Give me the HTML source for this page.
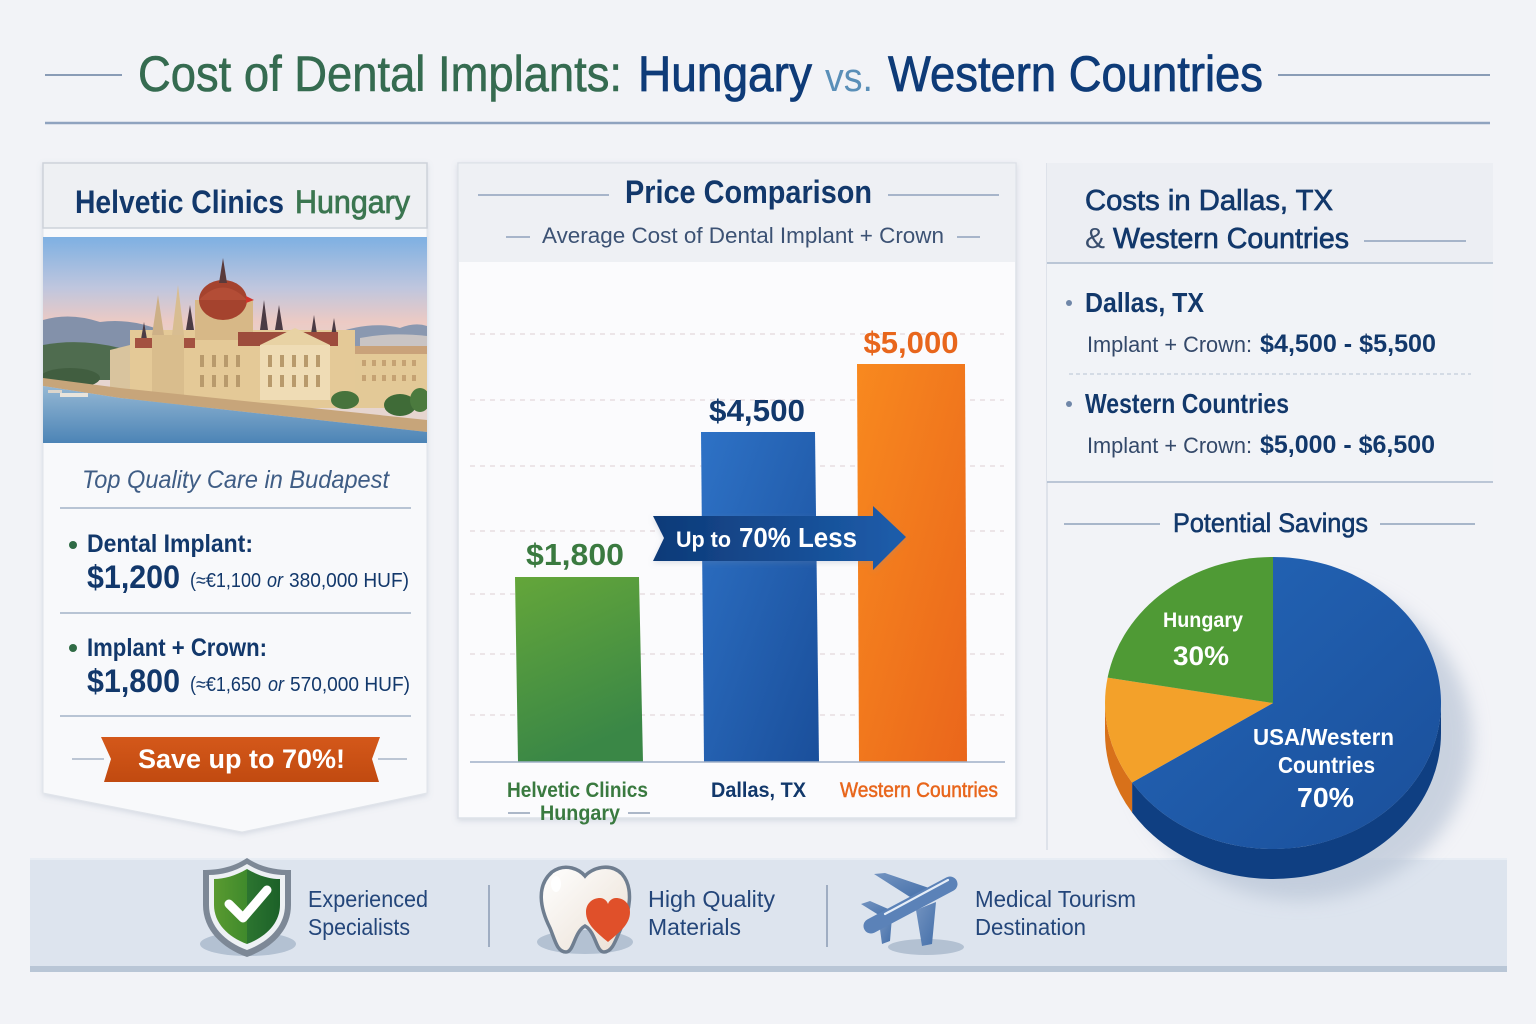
<!DOCTYPE html>
<html><head><meta charset="utf-8">
<style>
html,body{margin:0;padding:0;background:#f2f3f7;}
svg{display:block}
text{font-family:"Liberation Sans",sans-serif}
</style></head><body>
<svg xmlns="http://www.w3.org/2000/svg" width="1536" height="1024" viewBox="0 0 1536 1024">
<defs>
<filter id="sh" x="-10%" y="-10%" width="120%" height="120%"><feDropShadow dx="0" dy="2" stdDeviation="3" flood-color="#7d8ca5" flood-opacity="0.25"/></filter>
<filter id="blur8" x="-30%" y="-30%" width="160%" height="160%"><feGaussianBlur stdDeviation="9"/></filter>
<filter id="blur3" x="-30%" y="-30%" width="160%" height="160%"><feGaussianBlur stdDeviation="3"/></filter>
<linearGradient id="sky" gradientUnits="userSpaceOnUse" x1="0" y1="237" x2="0" y2="350">
<stop offset="0" stop-color="#7eb0e2"/><stop offset="0.45" stop-color="#bfc6de"/><stop offset="0.75" stop-color="#eccac4"/><stop offset="1" stop-color="#e6d5cf"/></linearGradient>
<linearGradient id="water" gradientUnits="userSpaceOnUse" x1="0" y1="370" x2="0" y2="443">
<stop offset="0" stop-color="#a9c6dc"/><stop offset="1" stop-color="#4c84b6"/></linearGradient>
<linearGradient id="gBar" x1="0" y1="0" x2="0.3" y2="1"><stop offset="0" stop-color="#64a63a"/><stop offset="1" stop-color="#3a8746"/></linearGradient>
<linearGradient id="bBar" x1="0" y1="0" x2="1" y2="1"><stop offset="0" stop-color="#2e72c6"/><stop offset="1" stop-color="#1a4f9b"/></linearGradient>
<linearGradient id="oBar" x1="0" y1="0" x2="1" y2="1"><stop offset="0" stop-color="#f8891f"/><stop offset="1" stop-color="#ea661b"/></linearGradient>
<linearGradient id="arrowG" x1="0" y1="0" x2="1" y2="0"><stop offset="0" stop-color="#0e3a78"/><stop offset="1" stop-color="#1d5dab"/></linearGradient>
<linearGradient id="ribbon" x1="0" y1="0" x2="0" y2="1"><stop offset="0" stop-color="#d4581a"/><stop offset="1" stop-color="#c14a10"/></linearGradient>
<linearGradient id="pieBlue" x1="0" y1="0" x2="1" y2="1"><stop offset="0" stop-color="#2466b8"/><stop offset="1" stop-color="#1a4f9a"/></linearGradient>
<linearGradient id="shieldG" x1="0" y1="0" x2="1" y2="0"><stop offset="0" stop-color="#5a9a30"/><stop offset="0.5" stop-color="#3f8a2c"/><stop offset="0.5" stop-color="#2c7530"/><stop offset="1" stop-color="#1c6128"/></linearGradient>
<linearGradient id="toothG" x1="0" y1="0" x2="1" y2="1"><stop offset="0" stop-color="#ffffff"/><stop offset="1" stop-color="#eadfd3"/></linearGradient>
<linearGradient id="planeG" x1="0" y1="0" x2="1" y2="1"><stop offset="0" stop-color="#7393c0"/><stop offset="1" stop-color="#4570aa"/></linearGradient>
<clipPath id="imgclip"><rect x="43" y="237" width="384" height="206"/></clipPath>
</defs>

<rect width="1536" height="1024" fill="#f2f3f7"/>

<!-- Title -->
<line x1="45" y1="75" x2="122" y2="75" stroke="#8a9cb6" stroke-width="2"/>
<line x1="1278" y1="75" x2="1490" y2="75" stroke="#8a9cb6" stroke-width="2"/>
<text x="138" y="91" font-size="50" fill="#356b50" stroke="#356b50" stroke-width="0.6" textLength="484" lengthAdjust="spacingAndGlyphs">Cost of Dental Implants:</text>
<text x="638" y="91" font-size="50" fill="#0e3b78" stroke="#0e3b78" stroke-width="0.8" textLength="174" lengthAdjust="spacingAndGlyphs">Hungary</text>
<text x="825" y="91" font-size="40" fill="#5a8fb8" textLength="48" lengthAdjust="spacingAndGlyphs">vs.</text>
<text x="888" y="91" font-size="50" fill="#0e3b78" stroke="#0e3b78" stroke-width="0.8" textLength="375" lengthAdjust="spacingAndGlyphs">Western Countries</text>
<line x1="45" y1="123" x2="1490" y2="123" stroke="#8fa3bf" stroke-width="2.5"/>

<!-- LEFT PANEL -->
<path d="M43,163 H427 V793 L242,832 L43,793 Z" fill="#f8f9fb" stroke="#e0e4ea" filter="url(#sh)"/>
<rect x="43" y="163" width="384" height="65" fill="#eef0f3" stroke="#cdd2da" stroke-width="1.5"/>
<text x="75" y="213" font-size="32" font-weight="bold" fill="#12386b" textLength="209" lengthAdjust="spacingAndGlyphs">Helvetic Clinics</text>
<text x="295" y="213" font-size="32" fill="#3b7650" stroke="#3b7650" stroke-width="0.8" textLength="115" lengthAdjust="spacingAndGlyphs">Hungary</text>

<!-- image -->
<g clip-path="url(#imgclip)">
<rect x="43" y="237" width="384" height="206" fill="url(#sky)"/>
<path d="M43,320 Q70,312 100,322 Q130,318 160,330 L160,360 L43,360 Z" fill="#8391aa"/>
<path d="M330,335 Q370,320 400,328 Q415,322 427,326 L427,360 L330,360 Z" fill="#8a98b0"/>
<path d="M43,345 Q80,338 120,348 L140,360 L140,380 L43,380 Z" fill="#4f6c4f"/>
<path d="M360,338 Q390,332 427,336 L427,352 L360,352 Z" fill="#c9c4c4"/>
<rect x="355" y="350" width="72" height="58" fill="#e3c997"/>
<rect x="355" y="346" width="72" height="8" fill="#c9a27a"/>
<g fill="#c5a273"><rect x="362" y="360" width="4" height="6"/><rect x="372" y="360" width="4" height="6"/><rect x="382" y="360" width="4" height="6"/><rect x="392" y="360" width="4" height="6"/><rect x="402" y="360" width="4" height="6"/><rect x="412" y="360" width="4" height="6"/><rect x="362" y="375" width="4" height="6"/><rect x="372" y="375" width="4" height="6"/><rect x="382" y="375" width="4" height="6"/><rect x="392" y="375" width="4" height="6"/><rect x="402" y="375" width="4" height="6"/><rect x="412" y="375" width="4" height="6"/></g>
<path d="M110,350 L130,345 L130,395 L110,395 Z" fill="#d9c49e"/>
<rect x="130" y="330" width="225" height="78" fill="#e4c997"/>
<rect x="195" y="300" width="58" height="40" fill="#d7b887"/>
<ellipse cx="223" cy="300" rx="24" ry="20" fill="#a5432e"/>
<path d="M199,300 Q223,275 247,300 Z" fill="#b34d36"/>
<path d="M219,283 L223,258 L227,283 Z" fill="#5a3a3a"/>
<path d="M152,335 L158,295 L164,335 Z" fill="#cdb087"/>
<path d="M172,335 L178,285 L184,335 Z" fill="#d8bd91"/>
<path d="M186,330 L190,305 L194,330 Z" fill="#4b3b44"/>
<path d="M260,330 L264,300 L268,330 Z" fill="#4b3b44"/>
<path d="M275,330 L279,305 L283,330 Z" fill="#4b3b44"/>
<path d="M310,340 L314,315 L318,340 Z" fill="#4b3b44"/>
<path d="M330,342 L334,318 L338,342 Z" fill="#4b3b44"/>
<path d="M140,345 L144,322 L148,345 Z" fill="#4b3b44"/>
<rect x="238" y="332" width="100" height="14" fill="#9d4c3c"/>
<rect x="135" y="338" width="60" height="10" fill="#a35140"/>
<rect x="260" y="345" width="70" height="55" fill="#efdcb5"/>
<path d="M260,345 L295,328 L330,345 Z" fill="#e8d2a4"/>
<g fill="#b89a6c"><rect x="268" y="355" width="4" height="12"/><rect x="280" y="355" width="4" height="12"/><rect x="292" y="355" width="4" height="12"/><rect x="304" y="355" width="4" height="12"/><rect x="316" y="355" width="4" height="12"/><rect x="268" y="375" width="4" height="12"/><rect x="280" y="375" width="4" height="12"/><rect x="292" y="375" width="4" height="12"/><rect x="304" y="375" width="4" height="12"/><rect x="316" y="375" width="4" height="12"/>
<rect x="200" y="355" width="4" height="12"/><rect x="212" y="355" width="4" height="12"/><rect x="224" y="355" width="4" height="12"/><rect x="236" y="355" width="4" height="12"/><rect x="200" y="375" width="4" height="12"/><rect x="212" y="375" width="4" height="12"/><rect x="224" y="375" width="4" height="12"/><rect x="236" y="375" width="4" height="12"/></g>
<rect x="152" y="335" width="32" height="70" fill="#d9bd8d"/>
<path d="M246,296 L254,300 L246,303 Z" fill="#d0332a"/>
<ellipse cx="400" cy="405" rx="16" ry="11" fill="#3f6b37"/>
<ellipse cx="420" cy="400" rx="10" ry="12" fill="#4b7a3e"/>
<ellipse cx="345" cy="400" rx="14" ry="9" fill="#47733c"/>
<ellipse cx="70" cy="378" rx="30" ry="10" fill="#415e40"/>
<path d="M43,378 L120,388 L427,420 L427,432 L120,398 L43,386 Z" fill="#c7a57a"/>
<path d="M43,386 L120,398 L427,432 L427,443 L43,443 Z" fill="url(#water)"/>
<rect x="60" y="393" width="28" height="4" fill="#e8e4dc"/>
<rect x="48" y="390" width="14" height="3" fill="#dcd6cc"/>
</g>

<text x="82" y="488" font-size="25" font-style="italic" fill="#3f5d85" textLength="307" lengthAdjust="spacingAndGlyphs">Top Quality Care in Budapest</text>
<line x1="60" y1="508" x2="411" y2="508" stroke="#a3b3c8" stroke-width="1.5"/>
<circle cx="73" cy="545" r="4" fill="#2f6b45"/>
<text x="87" y="552" font-size="25" font-weight="bold" fill="#12386b" textLength="166" lengthAdjust="spacingAndGlyphs">Dental Implant:</text>
<text x="87" y="588" font-size="32" font-weight="bold" fill="#12386b" textLength="93" lengthAdjust="spacingAndGlyphs">$1,200</text>
<text x="190" y="587" font-size="20" fill="#12386b" textLength="71" lengthAdjust="spacingAndGlyphs">(≈€1,100</text>
<text x="267" y="587" font-size="20" font-style="italic" fill="#12386b" textLength="16" lengthAdjust="spacingAndGlyphs">or</text>
<text x="289" y="587" font-size="20" fill="#12386b" textLength="120" lengthAdjust="spacingAndGlyphs">380,000 HUF)</text>
<line x1="60" y1="613" x2="411" y2="613" stroke="#a3b3c8" stroke-width="1.5"/>
<circle cx="73" cy="648" r="4" fill="#2f6b45"/>
<text x="87" y="656" font-size="25" font-weight="bold" fill="#12386b" textLength="180" lengthAdjust="spacingAndGlyphs">Implant + Crown:</text>
<text x="87" y="692" font-size="32" font-weight="bold" fill="#12386b" textLength="93" lengthAdjust="spacingAndGlyphs">$1,800</text>
<text x="190" y="691" font-size="20" fill="#12386b" textLength="71" lengthAdjust="spacingAndGlyphs">(≈€1,650</text>
<text x="268" y="691" font-size="20" font-style="italic" fill="#12386b" textLength="16" lengthAdjust="spacingAndGlyphs">or</text>
<text x="290" y="691" font-size="20" fill="#12386b" textLength="120" lengthAdjust="spacingAndGlyphs">570,000 HUF)</text>
<line x1="60" y1="716" x2="411" y2="716" stroke="#a3b3c8" stroke-width="1.5"/>
<line x1="72" y1="759" x2="104" y2="759" stroke="#a8b6c8" stroke-width="1.5"/>
<line x1="378" y1="759" x2="407" y2="759" stroke="#a8b6c8" stroke-width="1.5"/>
<path d="M101,737 L380,737 L372,759 L379,782 L104,782 L111,759 Z" fill="url(#ribbon)"/>
<text x="138" y="768" font-size="27" font-weight="bold" fill="#ffffff" textLength="207" lengthAdjust="spacingAndGlyphs">Save up to 70%!</text>

<!-- MIDDLE PANEL -->
<rect x="458" y="163" width="558" height="655" fill="#fbfbfd" stroke="#dde1e8" stroke-width="1.5" filter="url(#sh)"/>
<rect x="459" y="164" width="556" height="98" fill="#eef0f4"/>
<line x1="478" y1="195" x2="609" y2="195" stroke="#8fa1bb" stroke-width="1.5"/>
<line x1="888" y1="195" x2="999" y2="195" stroke="#8fa1bb" stroke-width="1.5"/>
<text x="625" y="203" font-size="32" font-weight="bold" fill="#12386b" textLength="247" lengthAdjust="spacingAndGlyphs">Price Comparison</text>
<line x1="506" y1="237" x2="530" y2="237" stroke="#8fa1bb" stroke-width="1.5"/>
<line x1="957" y1="237" x2="980" y2="237" stroke="#8fa1bb" stroke-width="1.5"/>
<text x="542" y="243" font-size="22" fill="#3c5274" textLength="402" lengthAdjust="spacingAndGlyphs">Average Cost of Dental Implant + Crown</text>
<g stroke="#dccfd3" stroke-width="1" stroke-dasharray="5 5">
<line x1="470" y1="334" x2="1004" y2="334"/>
<line x1="470" y1="400" x2="1004" y2="400"/>
<line x1="470" y1="466" x2="1004" y2="466"/>
<line x1="470" y1="531" x2="1004" y2="531"/>
<line x1="470" y1="594" x2="1004" y2="594"/>
<line x1="470" y1="654" x2="1004" y2="654"/>
<line x1="470" y1="715" x2="1004" y2="715"/>
</g>
<path d="M515,577 L639,577 L643,762 L518,762 Z" fill="url(#gBar)"/>
<path d="M701,432 L815,432 L819,762 L704,762 Z" fill="url(#bBar)"/>
<path d="M857,364 L965,364 L967,762 L859,762 Z" fill="url(#oBar)"/>
<line x1="470" y1="762" x2="1005" y2="762" stroke="#9fb0c8" stroke-width="1.5"/>
<text x="575" y="565" font-size="31" font-weight="bold" fill="#3a7a40" text-anchor="middle" textLength="98" lengthAdjust="spacingAndGlyphs">$1,800</text>
<text x="757" y="421" font-size="31" font-weight="bold" fill="#12386b" text-anchor="middle" textLength="96" lengthAdjust="spacingAndGlyphs">$4,500</text>
<text x="911" y="353" font-size="31" font-weight="bold" fill="#e8661c" text-anchor="middle" textLength="95" lengthAdjust="spacingAndGlyphs">$5,000</text>
<path d="M653,516 L873,516 L873,506 L906,537 L873,570 L873,561 L653,561 L664,538 Z" fill="url(#arrowG)" filter="url(#sh)"/>
<text x="676" y="547" font-size="22" font-weight="bold" fill="#ffffff" textLength="55" lengthAdjust="spacingAndGlyphs">Up to</text>
<text x="739" y="547" font-size="28" font-weight="bold" fill="#ffffff" textLength="118" lengthAdjust="spacingAndGlyphs">70% Less</text>
<text x="507" y="797" font-size="21" font-weight="bold" fill="#3a7a40" textLength="141" lengthAdjust="spacingAndGlyphs">Helvetic Clinics</text>
<line x1="508" y1="813" x2="530" y2="813" stroke="#7d8ea8" stroke-width="1.2"/>
<line x1="628" y1="813" x2="650" y2="813" stroke="#7d8ea8" stroke-width="1.2"/>
<text x="540" y="820" font-size="21" font-weight="bold" fill="#3a7a40" textLength="80" lengthAdjust="spacingAndGlyphs">Hungary</text>
<text x="711" y="797" font-size="21" font-weight="bold" fill="#12386b" textLength="95" lengthAdjust="spacingAndGlyphs">Dallas, TX</text>
<text x="840" y="797" font-size="21" fill="#e8661c" stroke="#e8661c" stroke-width="0.5" textLength="158" lengthAdjust="spacingAndGlyphs">Western Countries</text>

<!-- RIGHT PANEL -->
<line x1="1047" y1="163" x2="1047" y2="850" stroke="#d8dde5" stroke-width="1.5"/>
<rect x="1047" y="163" width="446" height="319" fill="#f1f3f7"/>
<rect x="1047" y="163" width="446" height="100" fill="#eceef3"/>
<line x1="1047" y1="263" x2="1493" y2="263" stroke="#a9b8cc" stroke-width="1.5"/>
<text x="1085" y="210" font-size="29" fill="#12386b" stroke="#12386b" stroke-width="0.7" textLength="248" lengthAdjust="spacingAndGlyphs">Costs in Dallas, TX</text>
<text x="1085" y="248" font-size="29" fill="#3a4f6e" textLength="20" lengthAdjust="spacingAndGlyphs">&amp;</text>
<text x="1113" y="248" font-size="29" fill="#12386b" stroke="#12386b" stroke-width="0.7" textLength="236" lengthAdjust="spacingAndGlyphs">Western Countries</text>
<line x1="1364" y1="241" x2="1466" y2="241" stroke="#8fa1bb" stroke-width="1.5"/>
<circle cx="1069" cy="303" r="3" fill="#6f86a8"/>
<text x="1085" y="312" font-size="28" font-weight="bold" fill="#12386b" textLength="119" lengthAdjust="spacingAndGlyphs">Dallas, TX</text>
<text x="1087" y="352" font-size="22" fill="#34496a" textLength="165" lengthAdjust="spacingAndGlyphs">Implant + Crown:</text>
<text x="1260" y="352" font-size="25" font-weight="bold" fill="#12386b" textLength="176" lengthAdjust="spacingAndGlyphs">$4,500 - $5,500</text>
<line x1="1069" y1="374" x2="1471" y2="374" stroke="#b8c3d3" stroke-width="1" stroke-dasharray="4 3"/>
<circle cx="1069" cy="404" r="3" fill="#6f86a8"/>
<text x="1085" y="413" font-size="28" font-weight="bold" fill="#12386b" textLength="204" lengthAdjust="spacingAndGlyphs">Western Countries</text>
<text x="1087" y="453" font-size="22" fill="#34496a" textLength="165" lengthAdjust="spacingAndGlyphs">Implant + Crown:</text>
<text x="1260" y="453" font-size="25" font-weight="bold" fill="#12386b" textLength="175" lengthAdjust="spacingAndGlyphs">$5,000 - $6,500</text>
<line x1="1047" y1="482" x2="1493" y2="482" stroke="#a9b8cc" stroke-width="1.5"/>

<line x1="1064" y1="524" x2="1160" y2="524" stroke="#8fa1bb" stroke-width="1.5"/>
<line x1="1380" y1="524" x2="1475" y2="524" stroke="#8fa1bb" stroke-width="1.5"/>
<text x="1173" y="532" font-size="27" fill="#12386b" stroke="#12386b" stroke-width="0.6" textLength="195" lengthAdjust="spacingAndGlyphs">Potential Savings</text>

<!-- BOTTOM BAR -->
<rect x="30" y="858" width="1477" height="114" fill="#dde4ee"/>
<rect x="30" y="858" width="1477" height="2" fill="#e8edf4"/>
<rect x="30" y="966" width="1477" height="6" fill="#b9c6d6"/>
<ellipse cx="248" cy="944" rx="48" ry="12" fill="#b3c1d2"/>
<path d="M247,858 C262,868 278,870 291,870 L291,905 C291,930 272,948 247,957 C222,948 203,930 203,905 L203,870 C216,870 232,868 247,858 Z" fill="#7d8896"/>
<path d="M247,864 C260,872 273,875 285,875 L285,905 C285,926 269,942 247,950 C225,942 209,926 209,905 L209,875 C221,875 234,872 247,864 Z" fill="#eef1f4"/>
<path d="M247,869 C259,876 270,879 280,879 L280,905 C280,923 266,937 247,944 C228,937 214,923 214,905 L214,879 C224,879 235,876 247,869 Z" fill="url(#shieldG)"/>
<path d="M229,904 L243,918 L267,890" fill="none" stroke="#ffffff" stroke-width="9" stroke-linecap="round" stroke-linejoin="round"/>
<text x="308" y="907" font-size="23" fill="#24467a" textLength="120" lengthAdjust="spacingAndGlyphs">Experienced</text>
<text x="308" y="935" font-size="23" fill="#24467a" textLength="102" lengthAdjust="spacingAndGlyphs">Specialists</text>
<line x1="489" y1="885" x2="489" y2="947" stroke="#8a9bb3" stroke-width="1.5"/>
<ellipse cx="585" cy="942" rx="48" ry="12" fill="#b3c1d2"/>
<path d="M552,872 C566,862 580,870 585,876 C592,868 610,862 622,874 C634,888 630,912 621,928 C615,942 612,952 604,952 C596,952 596,932 585,926 C574,932 574,952 566,952 C557,952 555,940 550,928 C540,908 536,886 552,872 Z" fill="url(#toothG)" stroke="#6f7e90" stroke-width="3.5"/>
<ellipse cx="556" cy="884" rx="5" ry="8" fill="#ffffff"/>
<path d="M608,942 C596,932 586,924 586,912 C586,903 593,898 600,898 C604,898 607,901 608,904 C609,901 612,898 616,898 C623,898 630,903 630,912 C630,924 620,932 608,942 Z" fill="#e0502a"/>
<text x="648" y="907" font-size="23" fill="#24467a" textLength="127" lengthAdjust="spacingAndGlyphs">High Quality</text>
<text x="648" y="935" font-size="23" fill="#24467a" textLength="93" lengthAdjust="spacingAndGlyphs">Materials</text>
<line x1="827" y1="885" x2="827" y2="947" stroke="#8a9bb3" stroke-width="1.5"/>
<!-- plane -->
<ellipse cx="926" cy="947" rx="38" ry="8" fill="#b3c1d2"/>
<g fill="url(#planeG)">
<path d="M910,897 L874,874 L885,873 L932,889 Z"/>
<path d="M916,910 L922,946 L932,944 L936,902 Z"/>
<path d="M882,917 L861,904 L870,901 L893,911 Z"/>
<path d="M879,922 L882,944 L890,941 L892,917 Z"/>
</g>
<path d="M871,926 L950,884" stroke="#5b82b8" stroke-width="15" stroke-linecap="round"/>
<path d="M885,914 L948,880" stroke="#e6eef8" stroke-width="2.2" stroke-linecap="round"/>
<text x="975" y="907" font-size="23" fill="#24467a" textLength="161" lengthAdjust="spacingAndGlyphs">Medical Tourism</text>
<text x="975" y="935" font-size="23" fill="#24467a" textLength="111" lengthAdjust="spacingAndGlyphs">Destination</text>

<!-- PIE -->
<ellipse cx="1300" cy="740" rx="172" ry="160" fill="#b9c5d6" opacity="0.7" filter="url(#blur8)"/>
<path d="M1441,703 A168,146 0 0 1 1132.1,782.5 L1132.1,812.5 A168,146 0 0 0 1441,733 Z" fill="#0f3f82"/>
<path d="M1132.1,782.5 A168,146 0 0 1 1105,703 L1105,733 A168,146 0 0 0 1132.1,812.5 Z" fill="#d8711a"/>
<path d="M1273,703 L1273,557 A168,146 0 1 1 1132.1,782.5 Z" fill="url(#pieBlue)"/>
<path d="M1273,703 L1132.1,782.5 A168,146 0 0 1 1107.6,677.6 Z" fill="#f3a12a"/>
<path d="M1273,703 L1107.6,677.6 A168,146 0 0 1 1273,557 Z" fill="#4f9a35"/>
<text x="1163" y="627" font-size="21" font-weight="bold" fill="#ffffff" textLength="80" lengthAdjust="spacingAndGlyphs">Hungary</text>
<text x="1173" y="665" font-size="27" font-weight="bold" fill="#ffffff" textLength="56" lengthAdjust="spacingAndGlyphs">30%</text>
<text x="1253" y="745" font-size="23" font-weight="bold" fill="#ffffff" textLength="141" lengthAdjust="spacingAndGlyphs">USA/Western</text>
<text x="1278" y="773" font-size="23" font-weight="bold" fill="#ffffff" textLength="97" lengthAdjust="spacingAndGlyphs">Countries</text>
<text x="1297" y="807" font-size="28" font-weight="bold" fill="#ffffff" textLength="57" lengthAdjust="spacingAndGlyphs">70%</text>
</svg>
</body></html>
